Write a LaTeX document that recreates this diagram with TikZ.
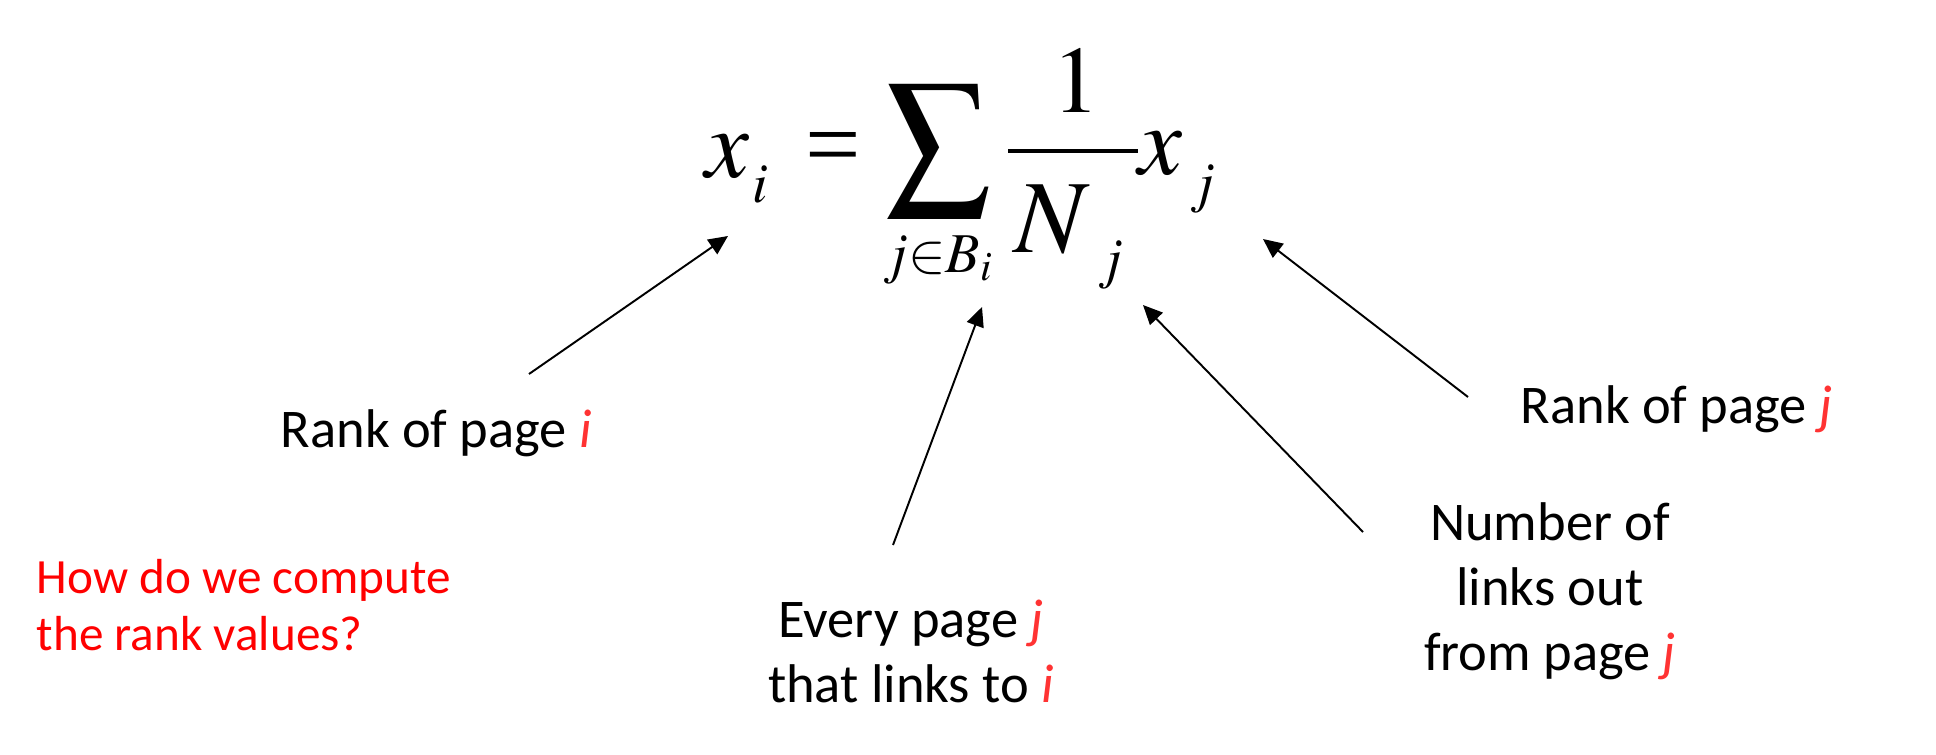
\documentclass[tikz,border=0pt]{standalone}
\usepackage{mathptmx}
\usepackage[no-math]{fontspec}
\setmainfont{Carlito}
\newfontfamily\tnr{Liberation Serif}
\usetikzlibrary{arrows.meta}
\definecolor{qred}{RGB}{255,0,0}
\definecolor{vred}{RGB}{255,51,51}
\newcommand{\rv}[1]{\textcolor{vred}{\textit{#1}}}
\newcommand{\eqbig}{\fontsize{28}{34}\selectfont}
\newcommand{\eqsml}{\fontsize{16}{19}\selectfont}
\tikzset{
  lbl/.style={inner sep=0pt, font=\fontsize{15.5}{18.4}\selectfont, text=black},
  mth/.style={inner sep=0pt, anchor=base west},
  pointer/.style={line width=0.55pt, -{Triangle[length=5.5pt,width=5pt]}}
}
\begin{document}
\begin{tikzpicture}[x=0.01cm,y=-0.01cm]
\useasboundingbox (0,0) rectangle (1936,754);
% formula pieces
\node[mth] (xi) at (705,177) {\eqbig $x$};
\node[mth] (isub) at (752,202) {\eqsml $i$};
\node[mth] (eqs) at (805,177) {\eqbig\tnr =};
\node[inner sep=0pt] (sum) at (939,151) {\scalebox{1.05}[1.09]{\eqbig $\displaystyle\sum$}};
\node[mth] (range) at (882,272) {\eqsml $j{\in}B_{i}$};
\node[inner sep=0pt, anchor=base] (one) at (1076,112) {\fontsize{27}{32}\selectfont $1$};
\coordinate (barl) at (1008,151); \coordinate (barr) at (1138,151);
\draw[line width=1.3pt] (barl) -- (barr);
\node[mth] (nn) at (1014,252) {\fontsize{29.5}{35}\selectfont $N$};
\node[mth] (nsub) at (1097,277) {\eqsml $j$};
\node[mth] (xj) at (1138,174) {\eqbig $x$};
\node[mth] (jsub) at (1189,201) {\eqsml $j$};
% labels
\node[lbl, anchor=base west] (ri) at (280,447) {Rank of page \rv{i}};
\node[lbl, anchor=base west] (rj) at (1520,423) {Rank of page \rv{j}};
\node[lbl, anchor=base, align=center] (nl) at (1550,670) {Number of\\links out\\from page \rv{j}};
\node[lbl, anchor=base, align=center] (ev) at (911,702) {Every page \rv{j}\\that links to \rv{i}};
\node[lbl, anchor=base west, align=left, text=qred, font=\fontsize{14}{16}\selectfont] (q) at (36,650) {How do we compute\\the rank values?};
% arrow ends
\coordinate (s1) at (529,374); \coordinate (t1) at (728,236);
\coordinate (s2) at (893,545); \coordinate (t2) at (982,307);
\coordinate (s3) at (1363,532); \coordinate (t3) at (1143,305);
\coordinate (s4) at (1468,397); \coordinate (t4) at (1263,239);
\draw[pointer] (s1) -- (t1);
\draw[pointer] (s2) -- (t2);
\draw[pointer] (s3) -- (t3);
\draw[pointer] (s4) -- (t4);
\end{tikzpicture}
\end{document}
